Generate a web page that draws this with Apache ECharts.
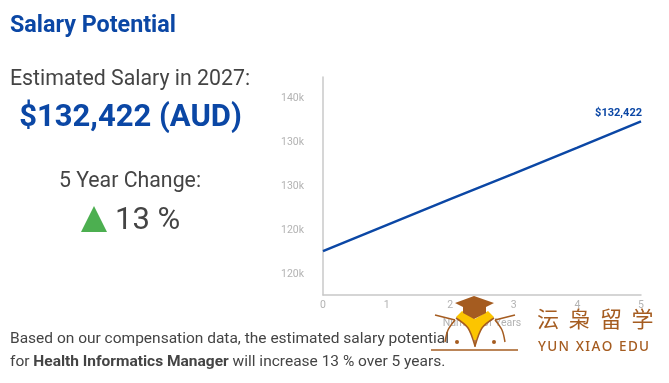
<!DOCTYPE html>
<html><head><meta charset="utf-8">
<style>html,body{margin:0;padding:0;background:#fff}#c{width:669px;height:383px}</style>
<script src="https://cdn.jsdelivr.net/npm/echarts@6/dist/echarts.min.js"></script>
</head><body><div id="c"></div>
<script>
const years = [0, 1, 2, 3, 4, 5];
const salary = [117600, 120570, 123550, 126460, 129430, 132422];
const yTickValues = [115000, 120000, 125000, 130000, 135000];
const yTickLabels = ['120k', '120k', '130k', '130k', '140k'];
const BLUE = '#0b47a5', INK = '#444', GREY = '#b3b3b3', BRAND = '#a55c20', FONT = 'Roboto';

function t2(x, y, t, size, fill, weight, align) {
  return { type: 'text', z: 10, style: {
    text: t, x: x, y: y, font: (weight || 'normal') + ' ' + size + 'px ' + FONT, fill: fill,
    align: align || 'left', verticalAlign: 'middle' } };
}
function line(points, w) {
  return { type: 'polyline', z: 21, shape: { points: points, smooth: 0.3 }, style: { stroke: BRAND, fill: 'none', lineWidth: w || 1.5 } };
}
const cjk = ['沄', '枭', '留', '学'].map((c, i) => ({
  type: 'text', z: 21, style: { x: 537 + i * 31.5, y: 319, text: c, font: '22px "Noto Sans CJK SC"', fill: BRAND, verticalAlign: 'middle' }
}));
const chart = echarts.init(document.getElementById('c'), null, { renderer: 'canvas' });
chart.setOption({
  animation: false,
  backgroundColor: '#fff',
  grid: { left: 323, right: 28, top: 77, bottom: 88, containLabel: false },
  xAxis: {
    type: 'value', min: 0, max: 5, interval: 1,
    name: 'Number of Years', nameLocation: 'middle', nameGap: 23,
    nameTextStyle: { color: GREY, fontSize: 10.5, fontFamily: FONT },
    axisLine: { show: true, onZero: false, lineStyle: { color: '#c8c8c8', width: 1.5 } },
    axisTick: { show: false }, splitLine: { show: false },
    axisLabel: { color: GREY, fontSize: 10.5, fontFamily: FONT, margin: 5, showMinLabel: true, showMaxLabel: true }
  },
  yAxis: {
    type: 'value', min: 112600, max: 137486,
    axisLine: { show: true, lineStyle: { color: '#c8c8c8', width: 1.5 } },
    axisTick: { show: false }, splitLine: { show: false },
    axisLabel: {
      customValues: yTickValues,
      color: GREY, fontSize: 10.5, fontFamily: FONT, margin: 19, padding: [5, 0, 0, 0],
      formatter: v => yTickLabels[yTickValues.indexOf(v)]
    }
  },
  series: [{
    type: 'line', smooth: false, symbol: 'none', silent: true,
    data: years.map((y, i) => [y, salary[i]]),
    lineStyle: { color: BLUE, width: 2.5 },
    endLabel: {
      show: true, formatter: '$132,422', color: BLUE, fontSize: 11, fontWeight: 'bold', fontFamily: FONT,
      position: 'top', align: 'right', verticalAlign: 'bottom', offset: [-7, -3]
    }
  }],
  graphic: [
    t2(10, 26, 'Salary Potential', 23.3, BLUE, 'bold'),
    t2(10, 80, 'Estimated Salary in 2027:', 21.3, INK),
    t2(130.5, 118.5, '$132,422 (AUD)', 31, BLUE, 'bold', 'center'),
    t2(130, 182, '5 Year Change:', 21.3, INK, 'normal', 'center'),
    t2(115, 221, '13 %', 31, INK),
    { type: 'polygon', z: 10, shape: { points: [[81, 232], [107, 232], [94, 206]] }, style: { fill: '#4caf50' } },
    t2(10, 339, 'Based on our compensation data, the estimated salary potential', 15.5, INK),
    { type: 'text', z: 10, style: { x: 10, y: 362, verticalAlign: 'middle',
      rich: { n: { font: '15.5px Roboto', fill: INK }, b: { font: 'bold 15.5px Roboto', fill: INK } },
      text: '{n|for }{b|Health Informatics Manager}{n| will increase 13 % over 5 years.}' } },
    // watermark
    { type: 'polygon', z: 19, shape: { points: [[456, 317], [462, 311], [475, 319], [488, 311], [494, 317], [482, 328], [476, 340], [474, 340], [468, 328]] }, style: { fill: '#fcc500' } },
    { type: 'polygon', z: 20, shape: { points: [[455, 303], [474, 296], [494, 303], [486, 307], [486, 313], [474, 319], [463, 313], [463, 307]] }, style: { fill: BRAND } },
    line([[435, 315], [455, 320]]),
    line([[515, 315], [495, 320]]),
    line([[455, 320], [448, 330], [445, 342]]),
    line([[495, 320], [502, 330], [505, 342]]),
    line([[456, 318], [468, 328], [475, 346]]),
    line([[494, 318], [482, 328], [475, 346]]),
    { type: 'line', z: 21, shape: { x1: 431, y1: 350, x2: 518, y2: 350 }, style: { stroke: BRAND, lineWidth: 1.5 } },
    { type: 'line', z: 21, shape: { x1: 475, y1: 340, x2: 475, y2: 347 }, style: { stroke: BRAND, lineWidth: 1.5 } },
    { type: 'circle', z: 21, shape: { cx: 457, cy: 342, r: 2 }, style: { fill: BRAND } },
    { type: 'circle', z: 21, shape: { cx: 494, cy: 342, r: 2 }, style: { fill: BRAND } },
    ...cjk,
    { type: 'text', z: 21, style: { x: 538, y: 347, text: 'Y\u200aU\u200aN\u2002X\u200aI\u200aA\u200aO\u2002E\u200aD\u200aU', font: '500 13.5px "Noto Sans"', fill: BRAND, verticalAlign: 'middle' } }
  ]
});
</script></body></html>
